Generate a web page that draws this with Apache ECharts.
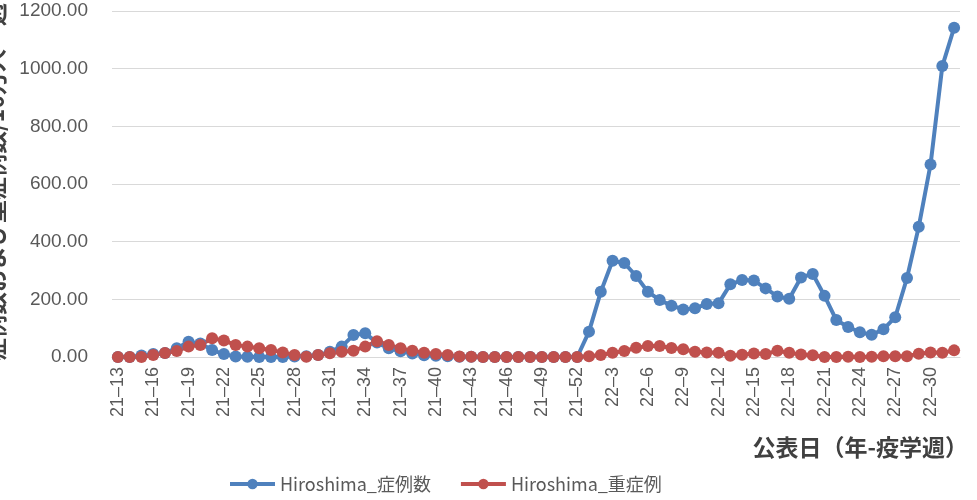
<!DOCTYPE html>
<html>
<head>
<meta charset="utf-8">
<script src="https://cdn.jsdelivr.net/npm/echarts@6/dist/echarts.min.js"></script>
<style>
  html, body { margin: 0; padding: 0; background: #fff; }
  #chart { width: 977px; height: 500px; }
</style>
</head>
<body>
<div id="chart"></div>
<script>
// Epidemiological weeks (year–week)
const weeks = [
  '21–13','21–14','21–15','21–16','21–17','21–18','21–19','21–20','21–21','21–22',
  '21–23','21–24','21–25','21–26','21–27','21–28','21–29','21–30','21–31','21–32',
  '21–33','21–34','21–35','21–36','21–37','21–38','21–39','21–40','21–41','21–42',
  '21–43','21–44','21–45','21–46','21–47','21–48','21–49','21–50','21–51','21–52',
  '22–1','22–2','22–3','22–4','22–5','22–6','22–7','22–8','22–9','22–10',
  '22–11','22–12','22–13','22–14','22–15','22–16','22–17','22–18','22–19','22–20',
  '22–21','22–22','22–23','22–24','22–25','22–26','22–27','22–28','22–29','22–30',
  '22–31','22–32'
];

// Cases per 100k per week
const cases = [
  0, 0, 5, 10, 14, 30, 53, 47, 24, 10,
  2, 1, 0, 0, 0, 2, 3, 7, 18, 36,
  76, 82, 50, 30, 20, 12, 6, 4, 3, 1,
  1, 0, 0, 0, 0, 0, 0, 0, 0, 0,
  88, 226, 334, 326, 281, 226, 198, 178, 165, 169,
  184, 186, 252, 267, 265, 238, 210, 202, 276, 288,
  212, 128, 104, 86, 77, 96, 138, 274, 452, 668,
  1009, 1142
];

// Severe cases per 100k per week
const severe = [
  0, 0, 0, 7, 14, 21, 36, 42, 65, 57,
  42, 36, 30, 24, 16, 7, 1, 7, 13, 18,
  22, 36, 55, 42, 30, 22, 15, 10, 7, 2,
  1, 0, 0, 0, 0, 0, 0, 0, 0, 0,
  3, 7, 15, 21, 32, 38, 38, 31, 27, 18,
  16, 15, 4, 8, 12, 10, 22, 15, 9, 6,
  0, 0, 1, 0, 1, 3, 3, 3, 11, 16,
  15, 23
];

const seriesNames = ['Hiroshima_症例数', 'Hiroshima_重症例'];
const yTitle = '症例数および重症例数/10万人・週';
const xTitle = '公表日（年-疫学週）';

const FONT = '"Liberation Sans", Arial, sans-serif';
const CJK = '"Noto Sans CJK JP", sans-serif';

const chart = echarts.init(document.getElementById('chart'), null, { renderer: 'canvas' });

chart.setOption({
  animation: false,
  backgroundColor: '#ffffff',
  grid: { left: 112, right: 17, top: 11, bottom: 143 },
  legend: {
    data: seriesNames,
    left: 223,
    top: 470,
    itemWidth: 45,
    itemHeight: 13,
    itemGap: 28,
    lineStyle: { width: 4 },
    textStyle: { color: '#595959', fontSize: 18, fontFamily: CJK }
  },
  xAxis: {
    type: 'category',
    data: weeks,
    boundaryGap: true,
    axisLine: { show: true, lineStyle: { color: '#d9d9d9', width: 1 } },
    axisTick: { show: false },
    axisLabel: {
      interval: 2,
      rotate: 90,
      margin: 10,
      color: '#595959',
      fontSize: 18,
      fontFamily: FONT
    }
  },
  yAxis: {
    type: 'value',
    min: 0,
    max: 1200,
    interval: 200,
    axisLine: { show: false },
    axisTick: { show: false },
    splitLine: { lineStyle: { color: '#d9d9d9', width: 1 } },
    axisLabel: {
      margin: 24,
      color: '#595959',
      fontSize: 19,
      fontFamily: FONT,
      formatter: v => v.toFixed(2)
    }
  },
  graphic: [
    {
      type: 'text',
      x: -5,
      y: 3,
      rotation: Math.PI / 2,
      style: {
        text: yTitle,
        textAlign: 'right',
        textVerticalAlign: 'middle',
        font: 'bold 23px ' + CJK,
        fill: '#404040'
      }
    },
    {
      type: 'text',
      x: 968,
      y: 447,
      style: {
        text: xTitle,
        textAlign: 'right',
        textVerticalAlign: 'middle',
        font: 'bold 23px ' + CJK,
        fill: '#404040'
      }
    }
  ],
  series: [
    {
      name: seriesNames[0],
      type: 'line',
      data: cases,
      symbol: 'circle',
      symbolSize: 12,
      showAllSymbol: true,
      lineStyle: { color: '#4F81BD', width: 4 },
      itemStyle: { color: '#4F81BD' }
    },
    {
      name: seriesNames[1],
      type: 'line',
      data: severe,
      symbol: 'circle',
      symbolSize: 12,
      showAllSymbol: true,
      lineStyle: { color: '#C0504D', width: 4 },
      itemStyle: { color: '#C0504D' }
    }
  ]
});
</script>
</body>
</html>
